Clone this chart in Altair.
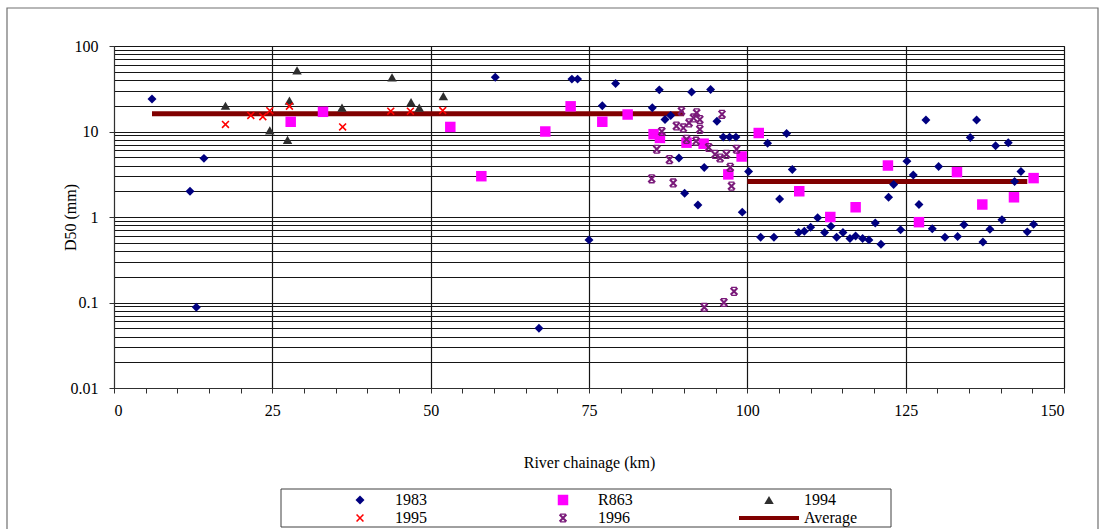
import altair as alt
import pandas as pd

# ---- sampled D50 values along the river (km, mm) ----
km_1983 = [6, 12, 13, 14.2, 60.2, 67.1, 72.3, 73.2, 75, 77.1, 79.2, 85, 86.1, 87, 87.9,
           89.2, 90.1, 91.2, 92.2, 93.2, 94.2, 95.2, 96.2, 97.2, 98.2, 99.2, 100.2, 102.1,
           103.2, 104.2, 105.1, 106.2, 107.1, 108.1, 109, 110, 111.1, 112.2, 113.2, 114.1,
           115.1, 116.2, 117.1, 118.2, 119.2, 120.2, 121.1, 122.3, 123.1, 124.2, 125.2,
           126.2, 127.1, 128.2, 129.2, 130.2, 131.2, 133.2, 134.2, 135.2, 136.2, 137.2,
           138.3, 139.2, 140.2, 141.2, 142.2, 143.2, 144.2, 145.2]
d50_1983 = [24, 2.0, 0.088, 4.85, 43, 0.05, 41, 41, 0.54, 20, 36.5, 19, 30.7, 13.8, 15.4,
            4.9, 1.9, 29, 1.38, 3.8, 31, 13.2, 8.6, 8.6, 8.6, 1.14, 3.4, 0.58,
            7.3, 0.58, 1.62, 9.5, 3.6, 0.66, 0.68, 0.76, 0.98, 0.66, 0.78, 0.58,
            0.66, 0.56, 0.6, 0.56, 0.54, 0.85, 0.48, 1.7, 2.4, 0.71, 4.5,
            3.1, 1.4, 13.6, 0.73, 3.9, 0.58, 0.59, 0.81, 8.5, 13.6, 0.51,
            0.72, 6.8, 0.93, 7.4, 2.6, 3.4, 0.67, 0.82]

km_r863 = [27.9, 33, 53.1, 58, 68.1, 72.1, 77.1, 81.1, 85.2, 86.2, 90.4, 93.1, 97, 99.1,
           101.8, 108.2, 113.1, 117.1, 122.2, 127.1, 133.1, 137.1, 142.1, 145.2]
d50_r863 = [13, 17, 11.3, 3.0, 10, 19.7, 13, 15.8, 9.3, 8.4, 7.4, 7.2, 3.15, 5.1,
            9.6, 2.0, 1.0, 1.3, 4.0, 0.87, 3.35, 1.4, 1.7, 2.85]

km_1994 = [17.6, 24.6, 27.4, 27.7, 28.9, 36, 43.9, 46.9, 48.2, 52]
d50_1994 = [20, 10.3, 8, 23, 52, 19, 43, 22, 19, 26]

km_1995 = [17.6, 21.6, 23.5, 24.6, 27.7, 36.1, 43.7, 46.8, 51.9]
d50_1995 = [12.1, 15.4, 14.9, 17.5, 19.8, 11.3, 17.3, 17.3, 17.6]

km_1996 = [84.9, 85.7, 86.5, 87.7, 88.3, 88.8, 89.6, 89.9, 90.4, 90.8, 91.5, 91.9, 92,
           92.5, 92.5, 93.2, 93.9, 94.9, 95.7, 96, 96.3, 96.7, 97.3, 97.5, 97.9, 98.3]
d50_1996 = [2.8, 6.2, 10, 4.7, 2.5, 11.6, 17.3, 11, 8.1, 12.6, 14.4, 7.7, 16.5,
            13.8, 10.6, 0.088, 6.5, 5.4, 4.9, 15.9, 0.1, 5.4, 3.8, 2.3, 0.135, 6.2]

# reach averages: start km, end km, D50 (mm)
avg_start = [6, 100]
avg_end = [90, 144.2]
avg_d50 = [16.1, 2.6]

# legend entries are filled column by column (two rows of three)
series_names = ["1983", "1995", "R863", "1996", "1994", "Average"]
series_colors = ["#000080", "#ff0000", "#ff00ff", "#7a1a7a", "#2e2e2e", "#800000"]

CROSS = "M-1,-0.72L-0.72,-1L1,0.72L0.72,1Z M1,-0.72L-0.72,1L-1,0.72L0.72,-1Z"
STAR = ("M-0.9,-0.58L-0.58,-0.9L0.9,0.58L0.58,0.9Z M0.9,-0.58L-0.58,0.9L-0.9,0.58L0.58,-0.9Z "
        "M-0.62,-1L0.62,-1L0.62,-0.72L-0.62,-0.72Z M-0.62,0.72L0.62,0.72L0.62,1L-0.62,1Z")
BAR = "M-1,-0.07L1,-0.07L1,0.07L-1,0.07Z"
series_shapes = ["diamond", CROSS, "square", STAR, "triangle-up", BAR]
series_sizes = [80, 64, 110, 85, 90, 3600]

rows = []
for name, kms, vals in [("1983", km_1983, d50_1983), ("R863", km_r863, d50_r863),
                        ("1994", km_1994, d50_1994), ("1995", km_1995, d50_1995),
                        ("1996", km_1996, d50_1996)]:
    for k, v in zip(kms, vals):
        rows.append({"km": k, "d50": v, "series": name})
points = pd.DataFrame(rows)
averages = pd.DataFrame({"start": avg_start, "end": avg_end, "d50": avg_d50})

FONT = "Liberation Serif"
decades = [0.01, 0.1, 1, 10, 100]
y_ticks = sorted({round(m * d, 4) for d in decades[:-1] for m in range(1, 10)} | {100})
x_ticks = list(range(0, 151, 5))
is_decade = "indexof([0.01,0.1,1,10,100], datum.value) >= 0"
is_major_km = "datum.value % 25 === 0"

x_scale = alt.Scale(domain=[0, 150], nice=False, zero=False)
y_scale = alt.Scale(type="log", domain=[0.01, 100], nice=False)

x_axis = alt.Axis(
    title="River chainage  (km)", values=x_ticks, format="d",
    labelExpr=f"{is_major_km} ? datum.label : ''",
    grid=True, gridColor="#151515", gridWidth=1.2,
    gridOpacity={"condition": {"test": is_major_km, "value": 1}, "value": 0},
    domainColor="#303030", tickColor="#303030", tickSize=5,
    labelPadding=9, labelFont=FONT, labelFontSize=16, labelColor="#000",
    titleFont=FONT, titleFontSize=16, titleFontWeight="normal", titleColor="#000",
    titleX=475, titleY=74, titleBaseline="middle",
)
y_axis = alt.Axis(
    title="D50  (mm)", values=y_ticks, format="~g",
    labelExpr=f"{is_decade} ? datum.label : ''",
    grid=True, gridColor="#151515", gridWidth=1.2,
    tickOpacity={"condition": {"test": is_decade, "value": 1}, "value": 0},
    domainColor="#303030", tickColor="#303030", tickSize=5,
    labelPadding=11, labelFont=FONT, labelFontSize=16, labelColor="#000",
    titleFont=FONT, titleFontSize=16, titleFontWeight="normal", titleColor="#000",
    titleAngle=270, titleX=-44, titleY=171, titleAlign="center", titleBaseline="middle",
)

legend = alt.Legend(
    title=None, orient="none", legendX=215, legendY=445, columns=3,
    columnPadding=105, rowPadding=0, padding=0, labelOffset=4, clipHeight=18,
    labelFont=FONT, labelFontSize=16, labelColor="#000", symbolOpacity=1,
)

# figure border and legend box
frame = alt.Chart(pd.DataFrame({"box": ["figure"]})).mark_rect(
    filled=False, stroke="#707070", strokeWidth=1.2
).encode(x=alt.value(-107), x2=alt.value(984), y=alt.value(-38), y2=alt.value(495))

legend_box = alt.Chart(pd.DataFrame({"box": ["legend"]})).mark_rect(
    fill="#ffffff", stroke="#404040", strokeWidth=1
).encode(x=alt.value(167), x2=alt.value(777), y=alt.value(443), y2=alt.value(481))

avg_lines = alt.Chart(averages).mark_rule(strokeWidth=5, color="#800000").encode(
    x=alt.X("start:Q", scale=x_scale, axis=x_axis),
    x2="end:Q",
    y=alt.Y("d50:Q", scale=y_scale, axis=y_axis),
)

markers = alt.Chart(points).mark_point(filled=True, opacity=1).encode(
    x=alt.X("km:Q", scale=x_scale, axis=x_axis),
    y=alt.Y("d50:Q", scale=y_scale, axis=y_axis),
    color=alt.Color("series:N", scale=alt.Scale(domain=series_names, range=series_colors),
                    legend=legend),
    shape=alt.Shape("series:N", scale=alt.Scale(domain=series_names, range=series_shapes),
                    legend=legend),
    size=alt.Size("series:N", scale=alt.Scale(type="ordinal", domain=series_names,
                                              range=series_sizes),
                  legend=legend),
)

chart = alt.layer(frame, legend_box, avg_lines, markers).properties(
    width=950, height=342,
    padding={"left": 114, "top": 46, "right": 35, "bottom": 141},
    autosize=alt.AutoSizeParams(type="none"),
    background="#ffffff",
).configure_view(stroke="#404040", strokeWidth=1)

chart.save("out.html", embed_options={"renderer": "svg", "actions": False})
